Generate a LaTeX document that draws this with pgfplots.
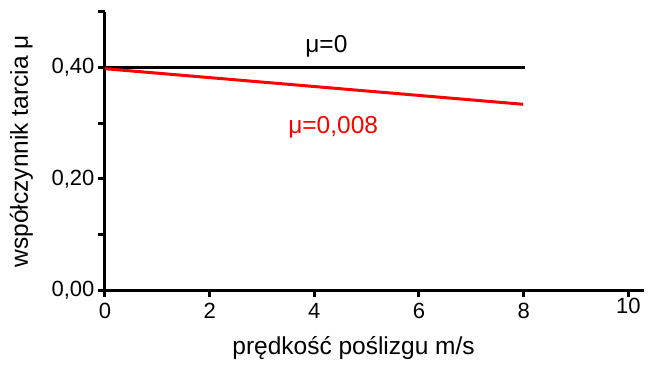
\documentclass[border=0pt]{standalone}
\usepackage{fontspec}
\setmainfont{Liberation Sans}
\usepackage{pgfplots}
\pgfplotsset{compat=1.18}
\begin{document}
\begin{tikzpicture}[x=1pt,y=1pt]
\path[use as bounding box] (-105,-74) rectangle (545,290);
\begin{axis}[
  at={(0,0)}, anchor=origin,
  scale only axis,
  width=539pt, height=278pt,
  xmin=0, xmax=10.3, ymin=0, ymax=0.5,
  axis x line=bottom, axis y line=left,
  axis line style={-, line width=3pt},
  xtick={0,2,4,6,8},
  extra x ticks={10},
  extra x tick style={xticklabel style={yshift=5pt}},
  ytick={0,0.2,0.4},
  minor ytick={0.1,0.3,0.5},
  tick align=outside,
  major tick length=7pt, minor tick length=7pt,
  tick style={line width=3pt, black},
  xticklabel style={font=\fontsize{22}{24}\selectfont, yshift=-3pt},
  yticklabel style={font=\fontsize{22}{24}\selectfont},
  /pgf/number format/assume math mode=true,
  yticklabel={\pgfmathprintnumber[fixed,fixed zerofill,precision=2,use comma]{\tick}},
  xticklabel={\pgfmathprintnumber{\tick}},
  xlabel={prędkość poślizgu m/s},
  ylabel={współczynnik tarcia μ},
  label style={font=\fontsize{24.5}{26}\selectfont},
  xlabel style={at={(axis cs:4.75,-0.1159)}, anchor=base},
  ylabel style={at={(axis cs:-1.472,0.2496)}, anchor=base},
  clip=false,
]
\addplot[black, line width=3pt] coordinates {(0,0.401) (8.03,0.401)};
\addplot[red, line width=3pt] coordinates {(0,0.398) (7.99,0.334)};
\node[font=\fontsize{24.5}{26}\selectfont, black, anchor=base] at (axis cs:4.23,0.428) {μ=0};
\node[font=\fontsize{24.5}{26}\selectfont, red, anchor=base] at (axis cs:4.36,0.2817) {μ=0,008};
\end{axis}
\end{tikzpicture}
\end{document}
